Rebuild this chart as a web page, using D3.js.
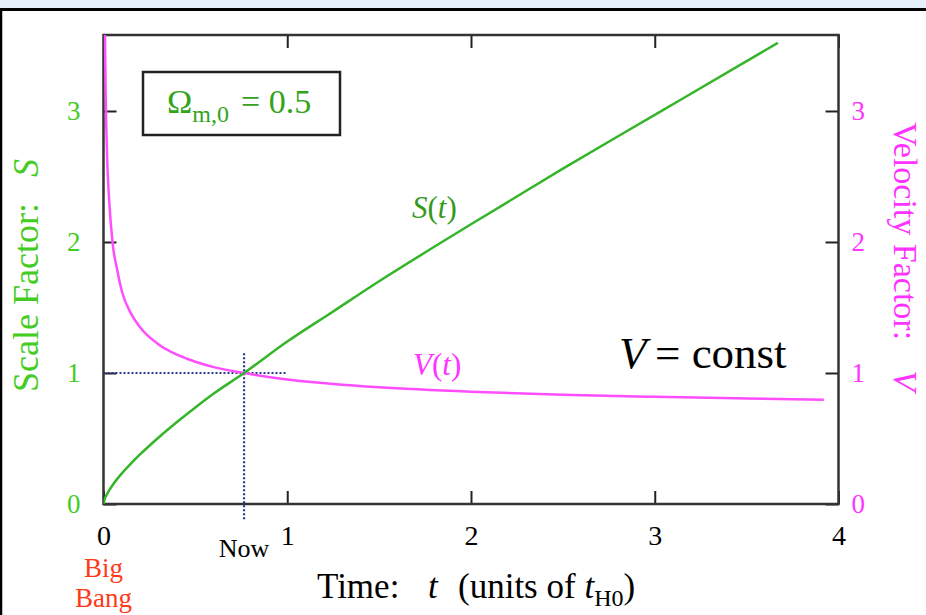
<!DOCTYPE html>
<html>
<head>
<meta charset="utf-8">
<script src="https://cdn.jsdelivr.net/npm/d3@7"></script>
<style>
  html, body { margin: 0; padding: 0; background: #ffffff; }
  svg { display: block; }
  text { font-family: "Liberation Serif", "Times New Roman", serif; }
</style>
</head>
<body>
<svg id="chart" width="926" height="615"></svg>
<script>
// Open universe, matter density 0.5: scale factor S(t) and velocity factor V(t)
const omegaLabel = "0.5";

// S(t): time in units of t_H0, scale factor
const sTime  = [0, 0.005, 0.02, 0.05, 0.1, 0.15, 0.2, 0.3, 0.4, 0.5, 0.6, 0.765, 1.0, 1.25, 1.5, 2.0, 2.5, 3.0, 3.5, 3.67];
const sValue = [0, 0.030, 0.078, 0.145, 0.234, 0.310, 0.380, 0.508, 0.626, 0.737, 0.843, 1.00, 1.24, 1.47, 1.70, 2.135, 2.56, 2.97, 3.38, 3.52];

// V(t): velocity factor
const vTime  = [0.0075, 0.012, 0.02, 0.03, 0.05, 0.075, 0.1, 0.15, 0.2, 0.3, 0.4, 0.5, 0.6, 0.765, 1.0, 1.25, 1.5, 2.0, 2.5, 3.0, 3.5, 3.92];
const vValue = [3.61, 3.11, 2.632, 2.335, 1.987, 1.784, 1.624, 1.453, 1.347, 1.218, 1.140, 1.086, 1.045, 1.00, 0.950, 0.916, 0.891, 0.857, 0.834, 0.818, 0.805, 0.795];

// Present epoch marker
const nowTime = 0.765;
const nowValue = 1;

// Tick labels
const xTicks = [0, 1, 2, 3, 4];
const yTicks = [0, 1, 2, 3];

const W = 926, H = 615;
const plot = { left: 103.5, top: 35, right: 838.5, bottom: 504 };

const svg = d3.select("#chart");

// page frame: light band with a rule below, and a left rule
svg.append("rect").attr("x", 0).attr("y", 0).attr("width", W).attr("height", 9).attr("fill", "#e4effb");
svg.append("line").attr("x1", 0).attr("x2", W).attr("y1", 9.5).attr("y2", 9.5)
  .attr("stroke", "#000").attr("stroke-width", 3);
svg.append("line").attr("x1", 1).attr("x2", 1).attr("y1", 9).attr("y2", H)
  .attr("stroke", "#000").attr("stroke-width", 2.5);

const x = d3.scaleLinear().domain([0, 4]).range([plot.left, plot.right]);
const yS = d3.scaleLinear().domain([0, 3.58]).range([plot.bottom, plot.top]);
const yV = d3.scaleLinear().domain([0, 3.58]).range([plot.bottom, plot.top]);

const green = "#44cc22";
const greenDark = "#33a31a";
const greenLine = "#35b52a";
const magenta = "#ff33ff";
const magentaLine = "#ff4dff";
const navy = "#2a3b8f";

svg.append("defs").append("clipPath").attr("id", "plotClip")
  .append("rect").attr("x", plot.left).attr("y", plot.top)
  .attr("width", plot.right - plot.left).attr("height", plot.bottom - plot.top);

// axes with inward ticks
function styleAxis(g, color, size) {
  g.select(".domain").remove();
  g.selectAll(".tick line").attr("stroke", "#222").attr("stroke-width", 2);
  g.selectAll(".tick text").attr("fill", color)
    .style("font-family", '"Liberation Serif", "Times New Roman", serif')
    .style("font-size", size + "px");
}

svg.append("g").attr("transform", `translate(0,${plot.bottom})`)
  .call(d3.axisBottom(x).tickValues(xTicks).tickSize(-13).tickPadding(21).tickFormat(d3.format("d")))
  .call(g => styleAxis(g, "#000", 28));

svg.append("g").attr("transform", `translate(0,${plot.top})`)
  .call(d3.axisTop(x).tickValues(xTicks).tickSize(-13).tickFormat(""))
  .call(g => styleAxis(g, "#000", 28));

svg.append("g").attr("transform", `translate(${plot.left},0)`)
  .call(d3.axisLeft(yS).tickValues(yTicks).tickSize(-13).tickPadding(23).tickFormat(d3.format("d")))
  .call(g => styleAxis(g, green, 27));

svg.append("g").attr("transform", `translate(${plot.right},0)`)
  .call(d3.axisRight(yV).tickValues(yTicks).tickSize(-13).tickPadding(13).tickFormat(d3.format("d")))
  .call(g => styleAxis(g, magenta, 27));

// plot frame
svg.append("rect").attr("x", plot.left).attr("y", plot.top)
  .attr("width", plot.right - plot.left).attr("height", plot.bottom - plot.top)
  .attr("fill", "none").attr("stroke", "#333").attr("stroke-width", 2.5);

// present-epoch crosshair
svg.append("line")
  .attr("x1", x(nowTime)).attr("x2", x(nowTime))
  .attr("y1", yS(1.15)).attr("y2", yS(-0.12))
  .attr("stroke", navy).attr("stroke-width", 2.2).attr("stroke-dasharray", "2,2");
svg.append("line")
  .attr("x1", x(0)).attr("x2", x(1))
  .attr("y1", yS(nowValue)).attr("y2", yS(nowValue))
  .attr("stroke", navy).attr("stroke-width", 2.2).attr("stroke-dasharray", "2,2");

// curves
const sData = sTime.map((t, i) => [t, sValue[i]]);
const vData = vTime.map((t, i) => [t, vValue[i]]);

const curves = svg.append("g").attr("clip-path", "url(#plotClip)");
curves.append("path").datum(vData)
  .attr("d", d3.line().x(d => x(d[0])).y(d => yV(d[1])).curve(d3.curveMonotoneX))
  .attr("fill", "none").attr("stroke", magentaLine).attr("stroke-width", 2.5);
curves.append("path").datum(sData)
  .attr("d", d3.line().x(d => x(d[0])).y(d => yS(d[1])).curve(d3.curveMonotoneX))
  .attr("fill", "none").attr("stroke", greenLine).attr("stroke-width", 2.5);

// density parameter box
svg.append("rect").attr("x", 143).attr("y", 72).attr("width", 197).attr("height", 63)
  .attr("fill", "#fff").attr("stroke", "#222").attr("stroke-width", 2.5);
const om = svg.append("text").attr("x", 167).attr("y", 113).attr("fill", greenDark).style("font-size", "34px");
om.append("tspan").text("Ω");
om.append("tspan").attr("dy", 9).style("font-size", "24px").text("m,0");
om.append("tspan").attr("x", 241).attr("dy", -9).text("= " + omegaLabel);

// curve labels
const sl = svg.append("text").attr("x", 412).attr("y", 218).attr("fill", "#339a1a").style("font-size", "31px");
sl.append("tspan").style("font-style", "italic").text("S");
sl.append("tspan").text("(");
sl.append("tspan").style("font-style", "italic").text("t");
sl.append("tspan").text(")");

const vl = svg.append("text").attr("x", 413).attr("y", 375).attr("fill", magenta).style("font-size", "31px");
vl.append("tspan").style("font-style", "italic").text("V");
vl.append("tspan").text("(");
vl.append("tspan").style("font-style", "italic").text("t");
vl.append("tspan").text(")");

const vc = svg.append("text").attr("x", 619).attr("y", 368).attr("fill", "#000").style("font-size", "45px");
vc.append("tspan").style("font-style", "italic").text("V");
vc.append("tspan").attr("x", 655).text("= const");

// time-axis annotations
svg.append("text").attr("x", x(nowTime)).attr("y", 557).attr("text-anchor", "middle")
  .attr("fill", "#000").style("font-size", "26px").text("Now");
svg.append("text").attr("x", x(0)).attr("y", 577).attr("text-anchor", "middle")
  .attr("fill", "#ff3a1a").style("font-size", "27px").text("Big");
svg.append("text").attr("x", x(0)).attr("y", 607).attr("text-anchor", "middle")
  .attr("fill", "#ff3a1a").style("font-size", "27px").text("Bang");

// axis titles
const xt = svg.append("text").attr("x", 317).attr("y", 598).attr("fill", "#000").style("font-size", "35px");
xt.append("tspan").text("Time:");
xt.append("tspan").attr("x", 428).style("font-style", "italic").text("t");
xt.append("tspan").attr("x", 458).text("(units of ");
xt.append("tspan").style("font-style", "italic").text("t");
xt.append("tspan").attr("dy", 8).style("font-size", "24px").text("H0");
xt.append("tspan").attr("dy", -8).text(")");

const yl = svg.append("text").attr("transform", "translate(38,392) rotate(-90)")
  .attr("fill", green).style("font-size", "36px");
yl.append("tspan").text("Scale Factor:");
yl.append("tspan").attr("dx", 26).style("font-style", "italic").text("S");

const yr = svg.append("text").attr("transform", "translate(894,122) rotate(90)")
  .attr("fill", magenta).style("font-size", "34px");
yr.append("tspan").text("Velocity Factor:");
yr.append("tspan").attr("dx", 30).style("font-style", "italic").text("V");
</script>
</body>
</html>
